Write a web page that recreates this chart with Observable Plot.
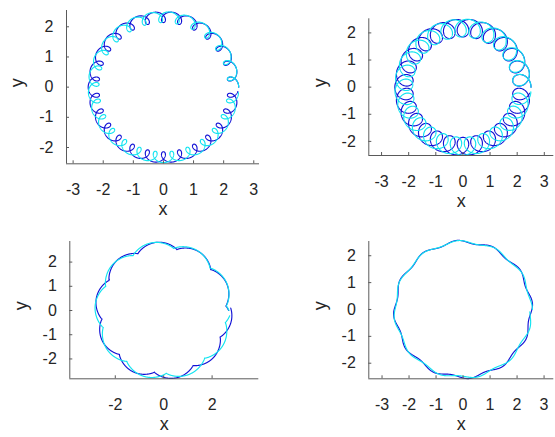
<!DOCTYPE html>
<html>
<head>
<meta charset="utf-8">
<script src="https://cdn.jsdelivr.net/npm/d3@7"></script>
<script src="https://cdn.jsdelivr.net/npm/@observablehq/plot@0.6"></script>
<style>
  html, body { margin: 0; padding: 0; background: #fff; }
  #chart { position: relative; width: 555px; height: 437px; overflow: hidden;
           font-family: "Liberation Sans", Arial, Helvetica, sans-serif; }
  #chart svg { position: absolute; }
</style>
</head>
<body>
<div id="chart"></div>
<script>
// ---------------- data ----------------
const xTicksWide = [-3, -2, -1, 0, 1, 2, 3];
const xTicksNarrow = [-2, 0, 2];
const yTicks = [-2, -1, 0, 1, 2];
const axisLabels = ["x", "y"];
const seriesNames = ["blue", "cyan"];

// top panels: orbit with epicycle loops
// [orbit radius, loop radius, loop turns per orbit, end of orbit (deg)]
const loopsTopLeftBlue  = [2.32, 0.18, 27.0, 358.8];
const loopsTopLeftCyan  = [2.32, 0.18, 26.33, 355.5];
const loopsTopRightBlue = [2.18, 0.33, 27.0, 358.8];
const loopsTopRightCyan = [2.18, 0.33, 26.33, 355.5];

// bottom-left panel: scalloped ring
// [dip radius, bump height, bumps per turn, first dip (deg), end (deg)]
const scallopBlue = [2.57, 0.26, 9.8, 4.25, 362];
const scallopCyan = [2.59, 0.25, 9.4, 4.25, 355.5];

// bottom-right panel: wavy ring
// [mean radius, wave amplitude, waves per turn, first crest (deg), end (deg)]
const waveBlue = [2.52, 0.06, 12.0, 5, 362];
const waveCyan = [2.52, 0.05, 11.5, 0, 358];

// axis extents of each panel
const xDomTL = [-3.22, 3.19], yDomTL = [-2.54, 2.54];
const xDomTR = [-3.47, 3.35], yDomTR = [-2.52, 2.52];
const xDomBL = [-3.88, 3.93], yDomBL = [-2.82, 2.85];
const xDomBR = [-3.49, 3.36], yDomBR = [-2.58, 2.53];

// ---------------- curve builders ----------------
const rad = Math.PI / 180;
function loopCurve([R, r, k, endDeg]) {
  const pts = [];
  const n = 4000;
  const end = endDeg * rad;
  for (let i = 0; i <= n; i++) {
    const t = end * i / n;
    pts.push({x: R * Math.cos(t) + r * Math.cos(k * t), y: R * Math.sin(t) + r * Math.sin(k * t)});
  }
  return pts;
}
function scallopCurve([R, A, m, dipDeg, endDeg]) {
  const pts = [];
  const period = 360 / m;
  for (let a = 0; a <= endDeg; a += 0.2) {
    const s = Math.abs(Math.sin(Math.PI * (a - dipDeg) / period));
    const rho = R + A * Math.pow(s, 0.8);
    pts.push({x: rho * Math.cos(a * rad), y: rho * Math.sin(a * rad)});
  }
  return pts;
}
function waveCurve([R, A, m, crestDeg, endDeg]) {
  const pts = [];
  for (let a = 0; a <= endDeg; a += 0.2) {
    const rho = R + A * Math.cos(m * (a - crestDeg) * rad);
    pts.push({x: rho * Math.cos(a * rad), y: rho * Math.sin(a * rad)});
  }
  return pts;
}

// ---------------- drawing ----------------
const colors = {blue: "#1212d6", cyan: "#12e4f0"};
const axisColor = "#5a5a5a";
const textColor = "#262626";

function panel({left, top, width, height, margins, xDomain, yDomain, xTicks, curves}) {
  const [mt, mr, mb, ml] = margins;
  const fw = width - ml - mr, fh = height - mt - mb;
  const svg = Plot.plot({
    width, height,
    marginTop: mt, marginRight: mr, marginBottom: mb, marginLeft: ml,
    style: {fontFamily: '"Liberation Sans", Arial, Helvetica, sans-serif', fontSize: "16px",
            color: textColor, background: "transparent", overflow: "visible"},
    x: {domain: xDomain},
    y: {domain: yDomain},
    marks: [
      ...curves.map(([name, pts]) =>
        Plot.line(pts, {x: "x", y: "y", stroke: colors[name], strokeWidth: 1.15})),
      Plot.ruleY([yDomain[0]], {stroke: axisColor, strokeWidth: 1}),
      Plot.ruleX([xDomain[0]], {stroke: axisColor, strokeWidth: 1}),
      Plot.tickX(xTicks, {x: d => d, insetTop: fh - 3, stroke: axisColor}),
      Plot.tickY(yTicks, {y: d => d, insetRight: fw - 3, stroke: axisColor}),
      Plot.axisX(xTicks, {anchor: "bottom", tickSize: 0, tickPadding: 20, label: null,
                          tickFormat: d => String(d), fill: textColor}),
      Plot.axisY(yTicks, {anchor: "left", tickSize: 0, tickPadding: 13, label: null,
                          tickFormat: d => String(d), fill: textColor}),
      Plot.text([axisLabels[0]], {frameAnchor: "bottom", dy: 51, text: d => d,
                                  fontSize: 18, fill: textColor}),
      Plot.text([axisLabels[1]], {frameAnchor: "left", dx: -49, rotate: -90, text: d => d,
                                  fontSize: 18, fill: textColor})
    ]
  });
  svg.style.left = left + "px";
  svg.style.top = top + "px";
  document.getElementById("chart").appendChild(svg);
}

panel({left: 0, top: 0, width: 277, height: 225, margins: [10, 18, 61.7, 66],
       xDomain: xDomTL, yDomain: yDomTL, xTicks: xTicksWide,
       curves: [[seriesNames[0], loopCurve(loopsTopLeftBlue)], [seriesNames[1], loopCurve(loopsTopLeftCyan)]]});
panel({left: 278, top: 0, width: 277, height: 225, margins: [18.3, 1.7, 70, 90.3],
       xDomain: xDomTR, yDomain: yDomTR, xTicks: xTicksWide,
       curves: [[seriesNames[0], loopCurve(loopsTopRightBlue)], [seriesNames[1], loopCurve(loopsTopRightCyan)]]});
panel({left: 0, top: 225, width: 277, height: 212, margins: [16, 18.7, 58.7, 69.3],
       xDomain: xDomBL, yDomain: yDomBL, xTicks: xTicksNarrow,
       curves: [[seriesNames[0], scallopCurve(scallopBlue)], [seriesNames[1], scallopCurve(scallopCyan)]]});
panel({left: 278, top: 225, width: 277, height: 212, margins: [16, 1.7, 58.7, 90.3],
       xDomain: xDomBR, yDomain: yDomBR, xTicks: xTicksWide,
       curves: [[seriesNames[0], waveCurve(waveBlue)], [seriesNames[1], waveCurve(waveCyan)]]});
</script>
</body>
</html>
